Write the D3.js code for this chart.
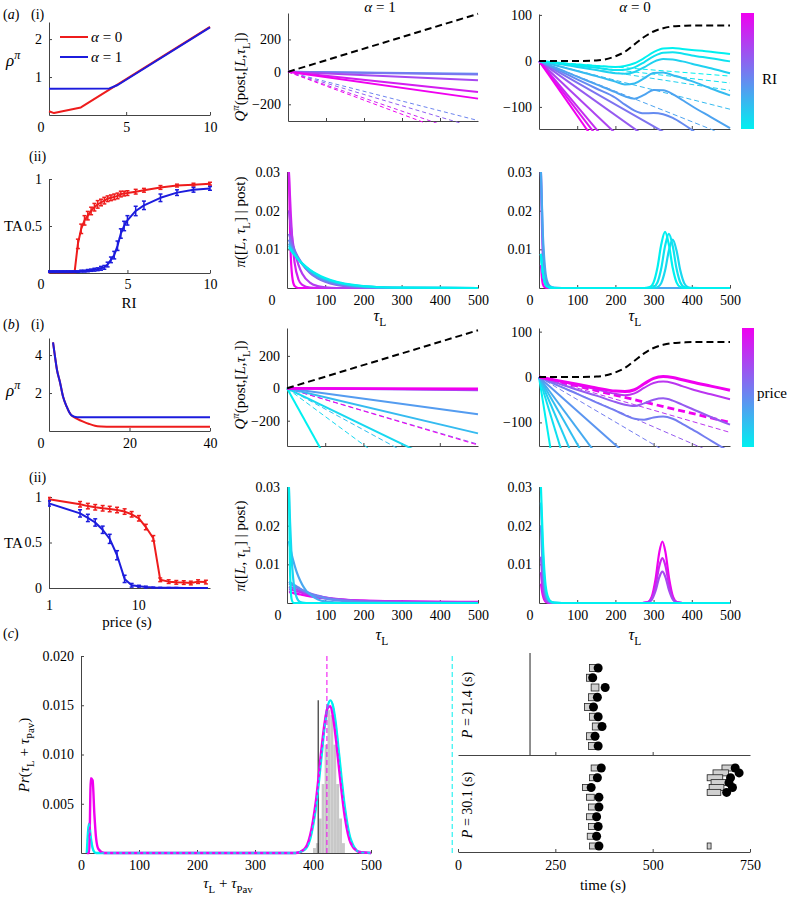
<!DOCTYPE html>
<html><head><meta charset="utf-8">
<script src="https://cdn.jsdelivr.net/npm/d3@7"></script>
<style>
body{margin:0;background:#fff;}
svg text{font-family:"Liberation Serif","Times New Roman",serif;fill:#000;}
</style></head><body>
<svg id="fig" width="787" height="901"></svg>
<script>
// ================= DATA =================
// (a)(i) rho vs RI
const riRhoX0 = [0.4, 0.7, 2.3, 10];
const riRho0  = [0.10, 0.05, 0.20, 2.32];
const riRhoX1 = [0.4, 4.0, 4.5, 10];
const riRho1  = [0.69, 0.70, 0.79, 2.31];
// (a)(ii) TA vs RI
const riTAx = [0.2,0.4,0.6,0.8,1.0,1.2,1.4,1.6,1.8,2.0,2.2,2.4,2.6,2.8,3.0,3.2,3.4,3.6,3.8,4.0,4.2,4.4,4.6,4.8,5.0,5.5,6,7,8,9,10];
const riTA0 = [0.01,0.01,0.01,0.01,0.01,0.01,0.01,0.01,0.01,0.31,0.47,0.56,0.61,0.66,0.70,0.73,0.75,0.77,0.79,0.80,0.81,0.82,0.84,0.845,0.85,0.865,0.88,0.91,0.93,0.94,0.95];
const riTAerr0 = [0.005,0.005,0.005,0.005,0.005,0.005,0.005,0.005,0.005,0.05,0.05,0.05,0.045,0.04,0.04,0.04,0.035,0.035,0.03,0.03,0.03,0.03,0.03,0.025,0.025,0.025,0.02,0.02,0.015,0.015,0.015];
const riTA1 = [0.015,0.015,0.015,0.015,0.015,0.015,0.015,0.015,0.015,0.015,0.02,0.02,0.025,0.03,0.035,0.04,0.05,0.06,0.09,0.14,0.19,0.29,0.42,0.50,0.56,0.66,0.72,0.80,0.855,0.885,0.90];
const riTAerr1 = [0.008,0.008,0.008,0.008,0.008,0.008,0.008,0.008,0.008,0.008,0.01,0.01,0.012,0.012,0.015,0.015,0.02,0.02,0.025,0.03,0.04,0.05,0.05,0.05,0.05,0.05,0.045,0.04,0.03,0.025,0.02];
// Q panels
const qTauLin = [0, 500];
const qOpt1 = [0, 358];
const qRI1SolidEnd = [-12, -16, -51, -124, -165];
const qRI1SolidLevel = [0.4, 0.5, 0.7, 0.88, 1.0];
const qRI1DashEnd = [-300, -348, -404, -436];
const qRI1DashLevel = [0.45, 0.6, 0.85, 1.0];
const qTauK = [0,50,100,150,200,225,250,275,300,325,350,375,400,450,500];
const qOpt0 = [0,0,0,1,10,20,36,52,64,71,75,76,77,77,77];
const qRI0Curves = [
  [0,-4,-8,-11,-13,-11,-5,6,19,27,28,26,24,20,15],
  [0,-5,-10,-15,-20,-19,-14,-3,10,18,19,16,12,6,-1],
  [0,-6,-13,-20,-27,-28,-24,-14,-2,4,3,-1,-6,-16,-27],
  [0,-11,-22,-33,-45,-51,-49,-38,-26,-25,-31,-37,-44,-60,-75],
  [0,-17,-34,-51,-68,-77,-82,-74,-63,-64,-72,-85,-98,-122,-146],
  [0,-20,-40,-60,-80,-95,-108,-114,-113,-116,-124,-136,-150,-185,-220]
];
const qRI0Level = [0, 0.06, 0.13, 0.22, 0.32, 0.42];
const qRI0SteepEnd = [-237, -295, -393, -494, -540, -595];
const qRI0SteepLevel = [0.52, 0.62, 0.72, 0.82, 0.91, 1.0];
const qRI0DashEnd = [-33, -48, -64, -105, -165];
const qRI0DashLevel = [0, 0.06, 0.13, 0.22, 0.32];
const qPr1SolidEnd = [-2120, -570, -278, -160, -12, -8, -3];
const qPr1SolidLevel = [0, 0.1, 0.22, 0.35, 0.6, 0.8, 1.0];
const qPr1DashEnd = [-870, -640, -345, -350];
const qPr1DashLevel = [0.1, 0.2, 0.6, 1.0];
const qPr0Curves = [
  [0,-19,-37,-56,-74,-84,-92,-94,-89,-87,-92,-103,-115,-140,-165],
  [0,-14,-28,-41,-55,-61,-64,-58,-50,-47,-52,-61,-70,-88,-105],
  [0,-9,-18,-27,-37,-40,-36,-24,-13,-10,-13,-20,-27,-38,-49],
  [0,-8,-16,-24,-31,-32,-28,-15,-3,1,-1,-6,-11,-20,-29]
];
const qPr0Level = [0.48, 0.62, 0.78, 1.0];
const qPr0SteepEnd = [-2620, -1382, -987, -738, -567, -374];
const qPr0SteepLevel = [0, 0.07, 0.14, 0.21, 0.29, 0.38];
const qPr0DashEnd = [-248, -183, -122, -100];
const qPr0DashLevel = [0.48, 0.62, 0.78, 1.0];
// (a)(ii) pi distributions, alpha = 1
const tauA5 = [5,10,15,20,30,40,60,80,100,130,160,200,250,300,500];
const piRI1 = [
  [0.03,0.008,0.002,0.0005,0,0,0,0,0,0,0,0,0,0,0],
  [0.03,0.019,0.011,0.0065,0.0022,0.0008,0.0001,0,0,0,0,0,0,0,0],
  [0.02,0.016,0.012,0.0095,0.006,0.0037,0.0014,0.0005,0.0002,0,0,0,0,0,0],
  [0.014,0.0125,0.011,0.0098,0.0078,0.0062,0.0039,0.0025,0.0016,0.0008,0.0004,0.00015,0,0,0],
  [0.0125,0.0113,0.0102,0.0093,0.0076,0.0062,0.0041,0.0027,0.0018,0.001,0.00055,0.00022,0.00007,0,0],
  [0.0115,0.0106,0.0097,0.0089,0.0075,0.0063,0.0044,0.0031,0.0022,0.0013,0.0008,0.0004,0.00015,0.00005,0],
  [0.011,0.0102,0.0094,0.0087,0.0074,0.0063,0.0046,0.0033,0.0024,0.0015,0.0009,0.00045,0.0002,0.0001,0],
  [0.0105,0.0098,0.0091,0.0085,0.0073,0.0063,0.0047,0.0035,0.0026,0.0016,0.001,0.0005,0.0002,0.0001,0]
];
const piRI1Level = [1.0, 0.88, 0.75, 0.6, 0.45, 0.3, 0.15, 0];
// (a)(ii) pi distributions, alpha = 0
const tauA6 = [5,10,15,20,30,40,60,100,200,275,290,300,310,320,330,340,350,360,370,380,390,400,420,500];
const piRI0 = [
  [0.006,0.001,0.0002,0,0,0,0,0,0,0,0,0,0,0,0,0,0,0,0,0,0,0,0,0],
  [0.03,0.008,0.002,0.0005,0,0,0,0,0,0,0,0,0,0,0,0,0,0,0,0,0,0,0,0],
  [0.03,0.012,0.004,0.0013,0.0002,0,0,0,0,0,0,0,0,0,0,0,0,0,0,0,0,0,0,0],
  [0.03,0.014,0.006,0.0022,0.0004,0.0001,0,0,0,0,0,0,0,0,0,0,0,0,0,0,0,0,0,0],
  [0.0088,0.004,0.0015,0.0005,0.0001,0,0,0,0,0,0,0.00002,0.00021,0.00126,0.0045,0.00969,0.0125,0.00969,0.0045,0.00126,0.00021,0.00002,0,0],
  [0.0088,0.004,0.0015,0.0005,0.0001,0,0,0,0,0,0.00002,0.00024,0.00141,0.00504,0.01085,0.014,0.01085,0.00504,0.00141,0.00024,0.00002,0,0,0],
  [0.0088,0.004,0.0015,0.0005,0.0001,0,0,0,0,0,0.00025,0.00146,0.00522,0.01124,0.0145,0.01124,0.00522,0.00146,0.00025,0.00002,0,0,0,0]
];
const piRI0Level = [1.0, 0.7, 0.5, 0.3, 0.1, 0.05, 0];
// (b)(i) rho vs price
const priceRhoX = [1,1.5,2,2.7,3.5,4.4,5,5.6,7,8.5,10,11.4,13,14.3,20,30,40];
const priceRho0 = [4.67,3.9,3.2,2.6,1.8,1.28,1.0,0.82,0.64,0.49,0.37,0.28,0.24,0.23,0.22,0.22,0.22];
const priceRho1 = [4.67,3.9,3.2,2.6,1.8,1.28,1.0,0.82,0.72,0.72,0.72,0.72,0.72,0.72,0.72,0.72,0.72];
// (b)(ii) TA vs price
const priceTAx = [1,2.23,2.73,3.3,4.0,4.8,5.8,7.05,8.46,10.2,12.2,14.8,17.7,22,26.8,32.5,39,47,57.6];
const priceTA0 = [0.975,0.92,0.9,0.887,0.876,0.868,0.857,0.84,0.81,0.766,0.67,0.546,0.09,0.07,0.062,0.06,0.055,0.07,0.065];
const priceTAerr0 = [0.02,0.03,0.03,0.03,0.03,0.03,0.03,0.03,0.03,0.03,0.03,0.03,0.02,0.02,0.02,0.02,0.02,0.02,0.02];
const priceTA1 = [0.93,0.82,0.77,0.72,0.64,0.54,0.36,0.1,0.03,0.02,0.01,0.005,0.003,0.002,0.002,0.001,0.001,0.001,0.001];
const priceTAerr1 = [0.03,0.04,0.04,0.04,0.04,0.05,0.05,0.04,0.02,0.01,0.01,0.005,0.004,0.003,0.003,0.002,0.002,0.002,0.002];
// (b)(ii) pi distributions, alpha = 1
const tauB5 = [5,8,12,16,20,25,30,40,50,60,80,100,150,200,300,400,500];
const piPr1 = [
  [0.0028,0.0028,0.0027,0.0026,0.0025,0.0024,0.0023,0.0021,0.0019,0.0017,0.0014,0.0012,0.0008,0.0006,0.0004,0.0003,0.0003],
  [0.0035,0.0035,0.0034,0.0033,0.0032,0.003,0.0029,0.0026,0.0023,0.0021,0.0017,0.0014,0.0009,0.0006,0.0004,0.0003,0.0002],
  [0.0042,0.0041,0.004,0.0039,0.0037,0.0035,0.0033,0.003,0.0026,0.0023,0.0018,0.0014,0.0008,0.0005,0.0003,0.0002,0.0001],
  [0.005,0.0049,0.0047,0.0045,0.0043,0.004,0.0038,0.0033,0.0029,0.0025,0.0019,0.0014,0.0007,0.0004,0.0001,0.00005,0],
  [0.0055,0.0053,0.0051,0.0048,0.0046,0.0043,0.004,0.0034,0.0029,0.0024,0.0017,0.0012,0.0005,0.0002,0,0,0],
  [0.016,0.0145,0.0127,0.0111,0.0097,0.0081,0.0068,0.0047,0.0032,0.0022,0.001,0.0004,0.00003,0,0,0,0],
  [0.03,0.021,0.012,0.0065,0.0035,0.0015,0.0006,0.0001,0,0,0,0,0,0,0,0,0],
  [0.03,0.008,0.001,0.0001,0,0,0,0,0,0,0,0,0,0,0,0,0]
];
const piPr1Level = [1.0, 0.85, 0.7, 0.55, 0.42, 0.3, 0.12, 0];
// (b)(ii) pi distributions, alpha = 0
const tauB6 = [5,10,15,20,30,40,60,100,200,270,285,295,305,315,323,331,341,351,361,376,400,500];
const piPr0 = [
  [0.005,0.002,0.0006,0.0002,0,0,0,0,0,0,0.00022,0.00156,0.0061,0.01315,0.0159,0.01315,0.0061,0.00156,0.00022,0,0,0],
  [0.008,0.003,0.001,0.0003,0,0,0,0,0,0,0.00016,0.00114,0.00444,0.0096,0.0116,0.0096,0.00444,0.00114,0.00016,0,0,0],
  [0.012,0.005,0.0017,0.0005,0.0001,0,0,0,0,0,0.00011,0.0008,0.0031,0.0067,0.0081,0.0067,0.0031,0.0008,0.00011,0,0,0],
  [0.02,0.009,0.0035,0.0012,0.0002,0,0,0,0,0,0,0,0,0,0,0,0,0,0,0,0,0],
  [0.026,0.013,0.005,0.0018,0.0003,0.0001,0,0,0,0,0,0,0,0,0,0,0,0,0,0,0,0],
  [0.03,0.016,0.007,0.0028,0.0005,0.0001,0,0,0,0,0,0,0,0,0,0,0,0,0,0,0,0]
];
const piPr0Level = [1.0, 0.85, 0.7, 0.45, 0.25, 0];
// (c) left
const tauC = [10,14,17,20,23,26,30,40,100,200,300,370,385,395,405,415,420,425,430,435,440,445,455,465,480,500];
const prCMag  = [0,0,0.0076,0.0074,0.004,0.0015,0.0004,0,0,0,0,0,0.0004,0.0018,0.0053,0.0108,0.0132,0.0147,0.0149,0.0136,0.0113,0.0085,0.0036,0.001,0.0001,0];
const prCCyan = [0,0.003,0.0015,0.0005,0.0001,0,0,0,0,0,0,0,0.0003,0.0014,0.0046,0.01,0.0128,0.0148,0.0155,0.0148,0.0128,0.01,0.0046,0.0014,0.0001,0];
const cHistLeft = [400,405,410,415,420,425,430,435,440,445,450];
const cHist = [0.0005,0.001,0.0035,0.007,0.011,0.0145,0.014,0.011,0.007,0.0035,0.001];
const cDataMark = [409];
const cMeanTau = [424, 640];
const cMeanLevel = [1, 0];
// (c) right raster
const rastTopStart = [338,330,342,335,325,338,345,330,335];
const rastTopEnd   = [358,350,362,356,345,358,365,350,356];
const rastTopDot   = [360,346,378,358,348,360,370,352,360];
const rastTopMark  = [185];
const rastBotTrial = [1,3,5,7,9,11,13,15,17,1,2,3,4,5,6,17];
const rastBotStart = [342,338,320,330,335,330,335,332,338,678,655,640,650,645,640,640];
const rastBotEnd   = [362,356,340,350,355,350,355,352,358,718,695,680,690,683,675,650];
const rastBotDot   = [368,358,342,362,362,356,360,356,362,712,722,700,696,705,690,NaN];

// ================= DRAWING =================
const SERIF = '"Liberation Serif","Times New Roman",serif';
const svg = d3.select('#fig');
const defs = svg.append('defs');
const cool = t => d3.interpolateRgb('#00f0f0', '#f000f0')(t);
const RED = '#ee1c1c', BLUE = '#1c1cdd', AX = '#444';
let clipN = 0;

function styleAxis(a){
  a.attr('font-family', SERIF).attr('font-size', 14);
  a.select('.domain').attr('stroke', AX).attr('stroke-width', 1);
  a.selectAll('.tick line').attr('stroke', AX);
  a.selectAll('.tick text').attr('fill', '#000');
}
function panel(c){
  const x = (c.xlog ? d3.scaleLog() : d3.scaleLinear()).domain(c.xd).range([c.x0, c.x1]);
  const y = d3.scaleLinear().domain(c.yd).range([c.y1, c.y0]);
  const id = 'clip' + (clipN++);
  defs.append('clipPath').attr('id', id).append('rect')
    .attr('x', c.x0 - 1).attr('y', c.y0 - 1).attr('width', c.x1 - c.x0 + 3).attr('height', c.y1 - c.y0 + 3);
  const g = svg.append('g');
  const ax = g.append('g');
  const fy = c.yf || d3.format('~g');
  const fx = c.xlab === false ? () => '' : (c.xf || d3.format('~g'));
  const ay = ax.append('g').attr('transform', `translate(${c.x0},0)`)
    .call(d3.axisLeft(y).tickValues(c.yt).tickFormat(fy).tickSizeInner(-3).tickSizeOuter(0).tickPadding(7));
  styleAxis(ay);
  const axx = ax.append('g').attr('transform', `translate(0,${c.y1})`)
    .call(d3.axisBottom(x).tickValues(c.xt).tickFormat(fx).tickSizeInner(-3).tickSizeOuter(0).tickPadding(c.xpad || 7));
  styleAxis(axx);
  if (c.corner) {
    g.append('text').attr('x', c.x0 - (c.cornerDx || 9)).attr('y', c.y1 + (c.cornerDy || 17))
      .attr('text-anchor', 'middle').attr('font-size', 14).text('0');
  }
  const plot = g.append('g').attr('clip-path', `url(#${id})`);
  return {x, y, plot, g};
}
function line(p, xs, ys, color, w, dash, curve){
  const pts = d3.zip(xs, ys);
  p.plot.append('path').datum(pts)
    .attr('d', d3.line().x(d => p.x(d[0])).y(d => p.y(d[1])).curve(curve || d3.curveLinear))
    .attr('fill', 'none').attr('stroke', color).attr('stroke-width', w)
    .attr('stroke-dasharray', dash || null).attr('stroke-linejoin', 'round');
}
function errs(p, xs, ys, es, color){
  const g = p.plot.append('g').attr('stroke', color).attr('stroke-width', 1.5);
  xs.forEach((xv, i) => {
    const X = p.x(xv), y1 = p.y(ys[i] - es[i]), y2 = p.y(ys[i] + es[i]);
    g.append('line').attr('x1', X).attr('x2', X).attr('y1', y1).attr('y2', y2);
    g.append('line').attr('x1', X - 2).attr('x2', X + 2).attr('y1', y1).attr('y2', y1);
    g.append('line').attr('x1', X - 2).attr('x2', X + 2).attr('y1', y2).attr('y2', y2);
  });
}
function rich(x, y, parts, o = {}){
  const size = o.size || 15;
  const t = svg.append('text').attr('x', x).attr('y', y).attr('font-size', size)
    .attr('text-anchor', o.anchor || 'start');
  if (o.rotate) t.attr('transform', `rotate(${o.rotate},${x},${y})`);
  let cur = 0;
  parts.forEach(p => {
    if (typeof p === 'string') p = {t: p};
    const s = t.append('tspan').text(p.t);
    const target = p.sub ? 0.3 : (p.sup ? -0.42 : 0);
    if (target !== cur) s.attr('dy', ((target - cur) * size).toFixed(2));
    cur = target;
    if (p.i) s.attr('font-style', 'italic');
    if (p.sub || p.sup) s.attr('font-size', (size * 0.72).toFixed(1));
  });
  return t;
}
function colorbar(x0, x1, y0, y1, id){
  const gr = defs.append('linearGradient').attr('id', id).attr('x1', 0).attr('x2', 0).attr('y1', 0).attr('y2', 1);
  d3.range(0, 1.01, 0.1).forEach(o => gr.append('stop').attr('offset', o).attr('stop-color', cool(1 - o)));
  svg.append('rect').attr('x', x0).attr('y', y0).attr('width', x1 - x0).attr('height', y1 - y0).attr('fill', `url(#${id})`);
}

// ---------- (a)(i) ----------
const A1 = panel({x0:49, x1:210, y0:22, y1:115, xd:[0.4,10], yd:[0,2.45], xt:[5,10], yt:[1,2], corner:true, cornerDx:8});
line(A1, riRhoX0, riRho0, RED, 2);
line(A1, riRhoX1, riRho1, BLUE, 2);
svg.append('line').attr('x1',60).attr('x2',88).attr('y1',37).attr('y2',37).attr('stroke',RED).attr('stroke-width',2);
svg.append('line').attr('x1',60).attr('x2',88).attr('y1',57).attr('y2',57).attr('stroke',BLUE).attr('stroke-width',2);
rich(91, 42, [{t:'α', i:true}, ' = 0'], {size:15});
rich(91, 62, [{t:'α', i:true}, ' = 1'], {size:15});

// ---------- (a) middle: Q, alpha=1 ----------
const A2 = panel({x0:288, x1:478, y0:13, y1:121, xd:[0,500], yd:[-303,363], xt:[100,200,300,400], xlab:false, yt:[-200,0,200]});
qRI1DashEnd.forEach((e, i) => line(A2, qTauLin, [0, e], cool(qRI1DashLevel[i]), 1, '4,3'));
qRI1SolidEnd.forEach((e, i) => line(A2, qTauLin, [0, e], cool(qRI1SolidLevel[i]), 2));
line(A2, qTauLin, qOpt1, '#000', 2, '7,4');

// ---------- (a) right: Q, alpha=0 ----------
const A3 = panel({x0:539, x1:730, y0:14, y1:129, xd:[0,500], yd:[-148,102], xt:[100,200,300,400], xlab:false, yt:[-100,0,100]});
qRI0DashEnd.forEach((e, i) => line(A3, qTauLin, [0, e], cool(qRI0DashLevel[i]), 1, '5,3'));
qRI0SteepEnd.forEach((e, i) => line(A3, qTauLin, [0, e], cool(qRI0SteepLevel[i]), 2));
qRI0Curves.slice().reverse().forEach((c, j) => {
  const i = qRI0Curves.length - 1 - j;
  line(A3, qTauK, c, cool(qRI0Level[i]), 2, null, d3.curveMonotoneX);
});
line(A3, qTauK, qOpt0, '#000', 2, '7,4', d3.curveMonotoneX);
colorbar(741, 754, 13, 129, 'cbA');
rich(762, 84, ['RI'], {size:15});

// ---------- (a)(ii) left: TA vs RI ----------
const A4 = panel({x0:49, x1:210, y0:179, y1:273, xd:[0.25,10], yd:[0,1], xt:[5,10], yt:[0.5,1], corner:true, cornerDx:8, xpad:6, cornerDy:16});
line(A4, riTAx, riTA0, RED, 2);
errs(A4, riTAx, riTA0, riTAerr0, RED);
line(A4, riTAx, riTA1, BLUE, 2);
errs(A4, riTAx, riTA1, riTAerr1, BLUE);

// ---------- (a)(ii) middle/right: pi ----------
const A5 = panel({x0:287, x1:478, y0:172, y1:288, xd:[0,500], yd:[0,0.03], xt:[100,200,300,400,500], yt:[0.01,0.02,0.03], corner:true, cornerDx:15});
piRI1.forEach((c, i) => line(A5, tauA5, c, cool(piRI1Level[i]), 2.2, null, d3.curveMonotoneX));
const A6 = panel({x0:539, x1:730, y0:172, y1:288, xd:[0,500], yd:[0,0.03], xt:[100,200,300,400,500], yt:[0.01,0.02,0.03], corner:true, cornerDx:9});
piRI0.forEach((c, i) => line(A6, tauA6, c, cool(piRI0Level[i]), 2.2, null, d3.curveMonotoneX));

// ---------- (b)(i) ----------
const B1 = panel({x0:49, x1:210, y0:338, y1:431, xd:[0,40], yd:[0,4.9], xt:[20,40], yt:[2,4], corner:true, cornerDx:8});
line(B1, priceRhoX, priceRho0, RED, 2, null, d3.curveMonotoneX);
line(B1, priceRhoX, priceRho1, BLUE, 2, null, d3.curveMonotoneX);

// ---------- (b) middle: Q, alpha=1 price ----------
const B2 = panel({x0:287, x1:478, y0:328, y1:446, xd:[0,500], yd:[-356,372], xt:[100,200,300,400], xlab:false, yt:[-200,0,200]});
qPr1DashEnd.forEach((e, i) => line(B2, qTauLin, [0, e], cool(qPr1DashLevel[i]), 1, '5,3'));
qPr1SolidEnd.forEach((e, i) => line(B2, qTauLin, [0, e], cool(qPr1SolidLevel[i]), i === qPr1SolidEnd.length - 1 ? 2.8 : 2));
line(B2, qTauLin, qOpt1, '#000', 2, '7,4');

// ---------- (b) right: Q, alpha=0 price ----------
const B3 = panel({x0:539, x1:730, y0:328, y1:446, xd:[0,500], yd:[-152,108], xt:[100,200,300,400], xlab:false, yt:[-100,0,100]});
qPr0DashEnd.forEach((e, i) => line(B3, qTauLin, [0, e], cool(qPr0DashLevel[i]), i === qPr0DashEnd.length - 1 ? 2.8 : 1, i === qPr0DashEnd.length - 1 ? '7,4' : '5,3'));
qPr0SteepEnd.forEach((e, i) => line(B3, qTauLin, [0, e], cool(qPr0SteepLevel[i]), 2));
qPr0Curves.forEach((c, i) => line(B3, qTauK, c, cool(qPr0Level[i]), i === qPr0Curves.length - 1 ? 3 : 2, null, d3.curveMonotoneX));
line(B3, qTauK, qOpt0, '#000', 2, '7,4', d3.curveMonotoneX);
colorbar(742, 754, 328, 447, 'cbB');
rich(757, 398, ['price'], {size:15});

// ---------- (b)(ii) left: TA vs price ----------
const B4 = panel({x0:49, x1:210, y0:497, y1:588, xd:[1,64], xlog:true, yd:[0,1], xt:[1,10], yt:[0,0.5,1], xpad:12});
line(B4, priceTAx, priceTA0, RED, 2);
errs(B4, priceTAx, priceTA0, priceTAerr0, RED);
line(B4, priceTAx, priceTA1, BLUE, 2);
errs(B4, priceTAx, priceTA1, priceTAerr1, BLUE);

// ---------- (b)(ii) middle/right: pi ----------
const B5 = panel({x0:287, x1:478, y0:487, y1:603, xd:[0,500], yd:[0,0.03], xt:[100,200,300,400,500], yt:[0.01,0.02,0.03], corner:true, cornerDx:9});
piPr1.forEach((c, i) => line(B5, tauB5, c, cool(piPr1Level[i]), 2.2, null, d3.curveMonotoneX));
const B6 = panel({x0:539, x1:730, y0:487, y1:603, xd:[0,500], yd:[0,0.03], xt:[100,200,300,400,500], yt:[0.01,0.02,0.03], corner:true, cornerDx:9});
piPr0.forEach((c, i) => line(B6, tauB6, c, cool(piPr0Level[i]), 2.2, null, d3.curveMonotoneX));

// ---------- (c) left ----------
const C1 = panel({x0:81, x1:371, y0:656, y1:853, xd:[0,500], yd:[0,0.02], xt:[0,100,200,300,400,500], yt:[0.005,0.01,0.015,0.02], yf:d3.format('.3f')});
C1.plot.selectAll('rect.h').data(cHistLeft).join('rect')
  .attr('x', d => C1.x(d)).attr('width', d => C1.x(d + 5) - C1.x(d))
  .attr('y', (d, i) => C1.y(cHist[i])).attr('height', (d, i) => C1.y(0) - C1.y(cHist[i]))
  .attr('fill', '#c8c8c8');
cDataMark.forEach(t => line(C1, [t, t], [0, 0.0155], '#333', 1.2));
const cMeanG = svg.append('g');
cMeanTau.forEach((t, i) => cMeanG.append('line').attr('x1', C1.x(t)).attr('x2', C1.x(t)).attr('y1', 656).attr('y2', 853)
  .attr('stroke', cool(cMeanLevel[i])).attr('stroke-width', 1).attr('stroke-dasharray', '5,3'));
line(C1, tauC, prCCyan, cool(0), 2.4, null, d3.curveMonotoneX);
line(C1, tauC, prCMag, cool(1), 2.4, null, d3.curveMonotoneX);
line(C1, tauC, prCCyan, cool(0), 1.4, '3,3', d3.curveMonotoneX);

// ---------- (c) right: raster ----------
const tScale = d3.scaleLinear().domain([0, 750]).range([458, 750]);
const rowTop = d3.scaleLinear().domain([0, 8]).range([668, 746]);
const rowBot = d3.scaleLinear().domain([1, 17]).range([768, 846]);
const axT = svg.append('g').attr('transform', 'translate(0,852)')
  .call(d3.axisBottom(tScale).tickValues([0,250,500,750]).tickFormat(d3.format('d')).tickSizeInner(-3).tickSizeOuter(0).tickPadding(8));
styleAxis(axT);
const axT2 = svg.append('g').attr('transform', 'translate(0,755)')
  .call(d3.axisBottom(tScale).tickValues([250,500]).tickFormat(() => '').tickSizeInner(-3).tickSizeOuter(0));
styleAxis(axT2);
rastTopMark.forEach(t => svg.append('line').attr('x1', tScale(t)).attr('x2', tScale(t)).attr('y1', 653).attr('y2', 755).attr('stroke', '#222').attr('stroke-width', 1));
const rg = svg.append('g');
rastTopStart.forEach((s, i) => {
  rg.append('rect').attr('x', tScale(s)).attr('y', rowTop(i) - 3.5).attr('width', tScale(rastTopEnd[i]) - tScale(s)).attr('height', 7)
    .attr('fill', '#d0d0d0').attr('stroke', '#222').attr('stroke-width', 0.8);
});
rastTopDot.forEach((d, i) => rg.append('circle').attr('cx', tScale(d)).attr('cy', rowTop(i)).attr('r', 4.5).attr('fill', '#000'));
rastBotStart.forEach((s, i) => {
  rg.append('rect').attr('x', tScale(s)).attr('y', rowBot(rastBotTrial[i]) - 3).attr('width', tScale(rastBotEnd[i]) - tScale(s)).attr('height', 6)
    .attr('fill', '#d0d0d0').attr('stroke', '#222').attr('stroke-width', 0.8);
});
rastBotDot.forEach((d, i) => { if (!isNaN(d)) rg.append('circle').attr('cx', tScale(d)).attr('cy', rowBot(rastBotTrial[i])).attr('r', 4.5).attr('fill', '#000'); });

// ---------- text labels ----------
rich(3, 19, ['(', {t:'a', i:true}, ')'], {size:14});
rich(31, 19, ['(i)'], {size:14});
rich(6, 66, [{t:'ρ', i:true}, {t:'π', sup:true, i:true}], {size:17});
rich(380, 12, [{t:'α', i:true}, ' = 1'], {size:15, anchor:'middle'});
rich(635, 12, [{t:'α', i:true}, ' = 0'], {size:15, anchor:'middle'});
const qLabel = [{t:'Q', i:true}, {t:'π', sup:true, i:true}, '(post,[', {t:'L', i:true}, ',', {t:'τ', i:true}, {t:'L', sub:true}, '])'];
rich(245, 77, qLabel, {size:15, anchor:'middle', rotate:-90});
rich(245, 385, qLabel, {size:15, anchor:'middle', rotate:-90});
rich(29, 161, ['(ii)'], {size:14});
rich(4, 231, ['TA'], {size:15});
rich(129, 308, ['RI'], {size:15, anchor:'middle'});
const piLabel = [{t:'π', i:true}, '([', {t:'L', i:true}, ', ', {t:'τ', i:true}, {t:'L', sub:true}, '] | post)'];
rich(245, 222, piLabel, {size:15, anchor:'middle', rotate:-90});
rich(245, 546, piLabel, {size:15, anchor:'middle', rotate:-90});
const tauL = [{t:'τ', i:true}, {t:'L', sub:true}];
rich(380, 321, tauL, {size:16, anchor:'middle'});
rich(635, 321, tauL, {size:16, anchor:'middle'});
rich(3, 329, ['(', {t:'b', i:true}, ')'], {size:14});
rich(31, 329, ['(i)'], {size:14});
rich(6, 396, [{t:'ρ', i:true}, {t:'π', sup:true, i:true}], {size:17});
rich(29, 482, ['(ii)'], {size:14});
rich(4, 548, ['TA'], {size:15});
rich(127, 627, ['price (s)'], {size:15, anchor:'middle'});
rich(382, 640, tauL, {size:16, anchor:'middle'});
rich(635, 640, tauL, {size:16, anchor:'middle'});
rich(3, 638, ['(', {t:'c', i:true}, ')'], {size:14});
rich(29, 755, [{t:'Pr', i:true}, '(', {t:'τ', i:true}, {t:'L', sub:true}, ' + ', {t:'τ', i:true}, {t:'Pav', sub:true}, ')'], {size:15, anchor:'middle', rotate:-90});
rich(228, 888, [{t:'τ', i:true}, {t:'L', sub:true}, ' + ', {t:'τ', i:true}, {t:'Pav', sub:true}], {size:15, anchor:'middle'});
rich(603, 890, ['time (s)'], {size:15, anchor:'middle'});
rich(472, 705, [{t:'P', i:true}, ' = 21.4 (s)'], {size:14, anchor:'middle', rotate:-90});
rich(472, 805, [{t:'P', i:true}, ' = 30.1 (s)'], {size:14, anchor:'middle', rotate:-90});
</script>
</body></html>
